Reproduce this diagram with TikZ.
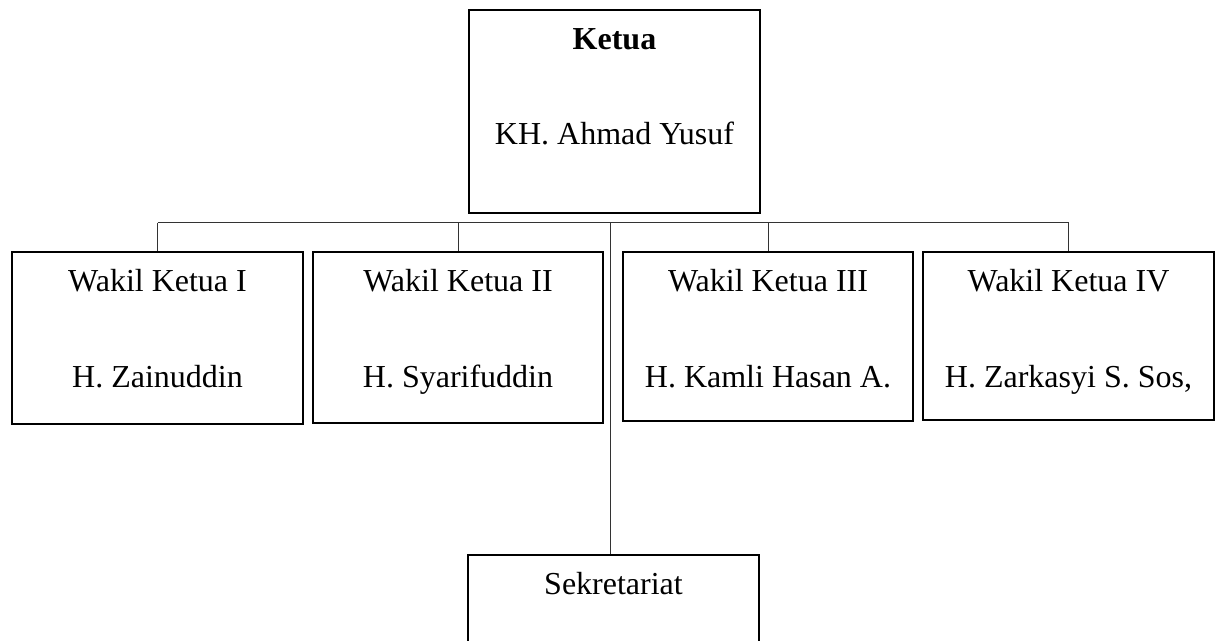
\documentclass[tikz,border=0pt]{standalone}
\usepackage{fontspec}
\setmainfont{Liberation Serif}
\usetikzlibrary{calc}
\begin{document}
\begin{tikzpicture}[x=0.5pt,y=-0.5pt,
  box/.style={draw=black,line width=1pt,inner sep=0pt,anchor=north west},
  lbl/.style={anchor=base,font=\fontsize{16}{19}\selectfont,inner sep=0pt},
  conn/.style={draw=black!80,line width=0.5pt}]
\useasboundingbox (0,0) rectangle (1215,641);

% boxes
\node[box,minimum width=145.5pt,minimum height=101.5pt] (ketua) at (468,9) {};
\node[box,minimum width=145.5pt,minimum height=86pt] (w1) at (11,251) {};
\node[box,minimum width=145pt,minimum height=85.5pt] (w2) at (312,251) {};
\node[box,minimum width=145pt,minimum height=84.5pt] (w3) at (622,251) {};
\node[box,minimum width=145.5pt,minimum height=84pt] (w4) at (922,251) {};
\node[box,minimum width=145.5pt,minimum height=55pt] (sek) at (467,554) {};

% labels
\node[lbl] (ketuaA) at ($(ketua.north)+(0,41)$) {\textbf{Ketua}};
\node[lbl] (ketuaB) at ($(ketua.north)+(0,136)$) {KH. Ahmad Yusuf};
\node[lbl] (w1A) at ($(w1.north)+(0,41)$) {Wakil Ketua I};
\node[lbl] (w1B) at ($(w1.north)+(0,136)$) {H. Zainuddin};
\node[lbl] (w2A) at ($(w2.north)+(0,41)$) {Wakil Ketua II};
\node[lbl] (w2B) at ($(w2.north)+(0,136)$) {H. Syarifuddin};
\node[lbl] (w3A) at ($(w3.north)+(0,41)$) {Wakil Ketua III};
\node[lbl] (w3B) at ($(w3.north)+(0,136)$) {H. Kamli Hasan A.};
\node[lbl] (w4A) at ($(w4.north)+(0,41)$) {Wakil Ketua IV};
\node[lbl] (w4B) at ($(w4.north)+(0,136)$) {H. Zarkasyi S. Sos,};
\node[lbl] (sekA) at ($(sek.north)+(0,40)$) {Sekretariat};

% connectors
\coordinate (bus) at (610,223);
\draw[conn] (w1.north |- bus) -- (w4.north |- bus);
\foreach \n in {w1,w2,w3,w4} \draw[conn] (\n.north |- bus) -- (\n.north);
\draw[conn] (bus) -- (bus |- sek.north);
\end{tikzpicture}
\end{document}
